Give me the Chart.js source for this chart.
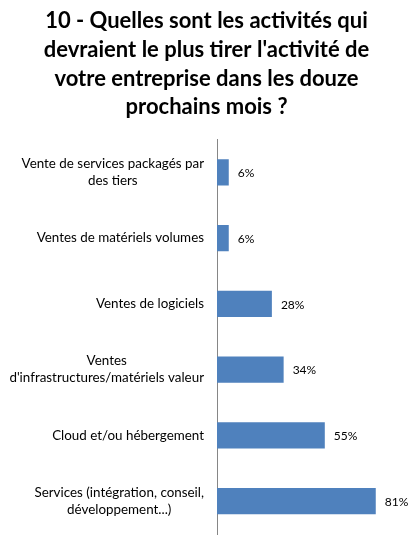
<!DOCTYPE html>
<html>
<head>
<meta charset="utf-8">
<script src="https://cdn.jsdelivr.net/npm/chart.js@4/dist/chart.umd.min.js"></script>
<style>
  html, body { margin: 0; padding: 0; background: #fff; }
  #wrap { width: 413px; height: 539px; }
</style>
</head>
<body>
<div id="wrap"><canvas id="chart-1"></canvas></div>
<script>
// Chart data
const titleLines = [
  "10 - Quelles sont les activités qui",
  "devraient le plus tirer l'activité de",
  "votre entreprise dans les douze",
  "prochains mois ?",
];
const categories = [
  ["Vente de services packagés par", "des tiers"],
  ["Ventes de matériels volumes"],
  ["Ventes de logiciels"],
  ["Ventes", "d'infrastructures/matériels valeur"],
  ["Cloud et/ou hébergement"],
  ["Services (intégration, conseil,", "développement...)"],
];
const values = [6, 6, 28, 34, 55, 81];

const barColor = "#4F81BD";
const axisColor = "#868686";
const labelFont = "13.4px Lato, 'Open Sans', sans-serif";
const valueFont = "12px Lato, 'Open Sans', sans-serif";

// category labels, each block right aligned, lines centered inside it
const categoryLabels = {
  id: "categoryLabels",
  afterDraw(chart) {
    const { ctx, scales } = chart;
    const y = scales.y;
    const right = y.right - 13;
    const lineH = 17;
    ctx.save();
    ctx.font = labelFont;
    ctx.fillStyle = "#000";
    ctx.textAlign = "center";
    ctx.textBaseline = "middle";
    categories.forEach((lines, i) => {
      const w = Math.max(...lines.map((l) => ctx.measureText(l).width));
      const cx = right - w / 2;
      const cy = y.getPixelForValue(i);
      const top = cy - ((lines.length - 1) * lineH) / 2;
      lines.forEach((l, j) => ctx.fillText(l, cx, top + j * lineH));
    });
    ctx.restore();
  },
};

// value labels after each bar
const valueLabels = {
  id: "valueLabels",
  afterDatasetsDraw(chart) {
    const { ctx } = chart;
    const meta = chart.getDatasetMeta(0);
    ctx.save();
    ctx.font = valueFont;
    ctx.fillStyle = "#000";
    ctx.textAlign = "left";
    ctx.textBaseline = "middle";
    meta.data.forEach((bar, i) => {
      ctx.fillText(values[i] + "%", bar.x + 9, bar.y + 1);
    });
    ctx.restore();
  },
};

new Chart(document.getElementById("chart-1"), {
  type: "bar",
  data: {
    labels: categories,
    datasets: [
      {
        data: values,
        backgroundColor: barColor,
        borderWidth: 0,
        categoryPercentage: 1,
        barPercentage: 0.4,
      },
    ],
  },
  options: {
    indexAxis: "y",
    responsive: true,
    maintainAspectRatio: false,
    animation: false,
    layout: { padding: { left: 0, right: 0, top: 0, bottom: 5 } },
    plugins: {
      legend: { display: false },
      tooltip: { enabled: false },
      title: {
        display: true,
        text: titleLines,
        color: "#000",
        font: { family: "Lato, 'Open Sans', sans-serif", size: 22, weight: "bold", lineHeight: 1.3 },
        padding: { top: 7, bottom: 18 },
      },
    },
    scales: {
      x: {
        display: false,
        min: 0,
        max: 100,
      },
      y: {
        grid: { display: false, drawTicks: false },
        border: { display: true, color: axisColor, width: 1 },
        ticks: { display: false },
        afterFit(scale) {
          scale.width = 217;
        },
      },
    },
  },
  plugins: [categoryLabels, valueLabels],
});
</script>
</body>
</html>
